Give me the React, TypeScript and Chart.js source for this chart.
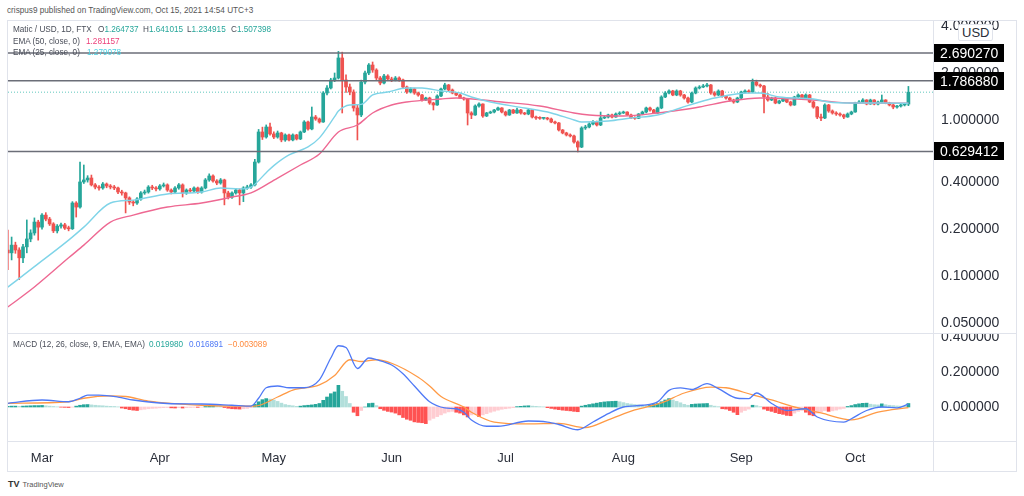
import React, { useEffect, useRef } from 'react';
import { Chart, registerables } from 'chart.js';
Chart.register(...registerables);

const FONT = '"Liberation Sans", Arial, sans-serif';

// ---------- DATA (day index 0 = 20 Feb 2021, daily candles to 15 Oct 2021) ----------
const FIRST_OPEN = 0.147;
const closes = [
  0.141, 0.158, 0.147, 0.131, 0.154, 0.173, 0.189, 0.222, 0.206, 0.246,
  0.232, 0.216, 0.195, 0.209, 0.213, 0.203, 0.201, 0.294, 0.277, 0.401,
  0.413, 0.425, 0.384, 0.372, 0.367, 0.389, 0.378, 0.372, 0.367, 0.346,
  0.341, 0.317, 0.298, 0.294, 0.312, 0.341, 0.346, 0.372, 0.367, 0.362,
  0.378, 0.384, 0.356, 0.346, 0.367, 0.384, 0.341, 0.356, 0.351, 0.367,
  0.346, 0.367, 0.413, 0.438, 0.407, 0.395, 0.413, 0.341, 0.321, 0.341,
  0.356, 0.341, 0.367, 0.372, 0.384, 0.538, 0.838, 0.778, 0.902, 0.814,
  0.778, 0.826, 0.745, 0.802, 0.745, 0.802, 0.756, 0.838, 0.971, 0.876,
  1.045, 1.015, 0.971, 1.489, 1.603, 1.804, 1.858, 2.496, 1.804, 1.627,
  1.511, 1.194, 1.077, 1.751, 2.000, 2.250, 2.090, 1.858, 1.726, 1.913,
  1.831, 1.804, 1.858, 1.804, 1.627, 1.511, 1.580, 1.489, 1.446, 1.343,
  1.383, 1.285, 1.248, 1.425, 1.580, 1.676, 1.557, 1.489, 1.446, 1.383,
  1.363, 1.109, 1.077, 1.229, 1.266, 1.061, 1.109, 1.125, 1.159, 1.194,
  1.125, 1.077, 1.159, 1.109, 1.159, 1.109, 1.093, 1.159, 1.045, 1.030,
  1.025, 1.030, 1.015, 0.971, 0.957, 0.863, 0.826, 0.802, 0.790, 0.723,
  0.671, 0.889, 0.902, 0.943, 0.971, 0.929, 1.030, 1.045, 1.077, 1.045,
  1.093, 1.109, 1.125, 1.077, 1.030, 1.025, 1.093, 1.125, 1.194, 1.159,
  1.109, 1.194, 1.404, 1.489, 1.534, 1.446, 1.534, 1.446, 1.383, 1.304,
  1.489, 1.603, 1.627, 1.651, 1.676, 1.489, 1.446, 1.534, 1.425, 1.383,
  1.343, 1.304, 1.383, 1.511, 1.534, 1.511, 1.751, 1.676, 1.651, 1.404,
  1.343, 1.383, 1.285, 1.323, 1.363, 1.304, 1.248, 1.404, 1.446, 1.383,
  1.446, 1.304, 1.211, 1.045, 1.030, 1.248, 1.142, 1.109, 1.093, 1.077,
  1.045, 1.093, 1.125, 1.285, 1.304, 1.343, 1.266, 1.343, 1.266, 1.304,
  1.343, 1.285, 1.248, 1.211, 1.229, 1.248, 1.264737, 1.507398,
];
const highs = [
  0.197, 0.178, 0.165, 0.152, 0.160, 0.229, 0.198, 0.236, 0.228, 0.252,
  0.255, 0.238, 0.220, 0.214, 0.219, 0.218, 0.209, 0.300, 0.300, 0.538,
  0.515, 0.440, 0.444, 0.392, 0.380, 0.398, 0.395, 0.386, 0.381, 0.372,
  0.355, 0.345, 0.322, 0.305, 0.318, 0.348, 0.356, 0.380, 0.382, 0.374,
  0.386, 0.395, 0.390, 0.362, 0.374, 0.392, 0.390, 0.362, 0.365, 0.373,
  0.372, 0.374, 0.422, 0.452, 0.445, 0.415, 0.422, 0.418, 0.350, 0.347,
  0.365, 0.362, 0.374, 0.382, 0.392, 0.560, 0.870, 0.900, 0.930, 0.957,
  0.840, 0.850, 0.835, 0.815, 0.812, 0.815, 0.810, 0.850, 0.990, 0.985,
  1.211, 1.07, 1.03, 1.52, 1.66, 1.85, 2.00, 2.75, 2.72, 1.95,
  1.70, 1.56, 1.25, 1.80, 2.06, 2.30, 2.352, 2.13, 1.90, 1.96,
  1.95, 1.88, 1.90, 1.89, 1.83, 1.65, 1.61, 1.60, 1.51, 1.46,
  1.40, 1.40, 1.30, 1.45, 1.60, 1.72, 1.69, 1.58, 1.50, 1.46,
  1.40, 1.37, 1.13, 1.25, 1.29, 1.27, 1.12, 1.14, 1.17, 1.21,
  1.20, 1.14, 1.17, 1.17, 1.19, 1.17, 1.12, 1.17, 1.17, 1.06,
  1.05, 1.04, 1.04, 1.03, 0.985, 0.965, 0.870, 0.835, 0.815, 0.800,
  0.735, 0.905, 0.925, 0.960, 0.990, 0.985, 1.125, 1.07, 1.09, 1.09,
  1.11, 1.13, 1.14, 1.13, 1.09, 1.05, 1.10, 1.14, 1.21, 1.21,
  1.17, 1.21, 1.43, 1.52, 1.56, 1.55, 1.56, 1.55, 1.46, 1.40,
  1.51, 1.63, 1.66, 1.69, 1.72, 1.69, 1.52, 1.56, 1.55, 1.44,
  1.40, 1.36, 1.40, 1.53, 1.56, 1.56, 1.83, 1.80, 1.70, 1.67,
  1.48, 1.40, 1.40, 1.34, 1.38, 1.37, 1.32, 1.42, 1.47, 1.46,
  1.47, 1.46, 1.32, 1.22, 1.09, 1.27, 1.26, 1.16, 1.13, 1.11,
  1.09, 1.11, 1.14, 1.30, 1.33, 1.37, 1.35, 1.36, 1.35, 1.32,
  1.446, 1.35, 1.30, 1.26, 1.24, 1.26, 1.28, 1.641015,
];
const lows = [
  0.110, 0.127, 0.140, 0.095, 0.122, 0.141, 0.166, 0.183, 0.170, 0.200,
  0.226, 0.211, 0.190, 0.189, 0.203, 0.199, 0.195, 0.199, 0.239, 0.272,
  0.392, 0.400, 0.378, 0.362, 0.355, 0.360, 0.368, 0.362, 0.358, 0.338,
  0.330, 0.254, 0.288, 0.282, 0.288, 0.306, 0.334, 0.340, 0.358, 0.352,
  0.355, 0.372, 0.349, 0.336, 0.340, 0.360, 0.321, 0.334, 0.344, 0.345,
  0.339, 0.340, 0.362, 0.405, 0.400, 0.385, 0.388, 0.286, 0.312, 0.314,
  0.335, 0.286, 0.300, 0.360, 0.365, 0.378, 0.530, 0.750, 0.765, 0.800,
  0.760, 0.765, 0.725, 0.730, 0.735, 0.735, 0.745, 0.748, 0.830, 0.860,
  0.865, 0.995, 0.955, 0.965, 1.45, 1.58, 1.76, 1.83, 1.109, 1.50,
  1.45, 1.14, 0.745, 1.05, 1.70, 1.95, 2.02, 1.80, 1.68, 1.70,
  1.79, 1.76, 1.78, 1.77, 1.60, 1.48, 1.49, 1.46, 1.42, 1.32,
  1.33, 1.26, 1.159, 1.24, 1.41, 1.56, 1.54, 1.47, 1.43, 1.37,
  1.34, 0.929, 1.02, 1.07, 1.21, 1.04, 1.05, 1.10, 1.11, 1.15,
  1.11, 1.06, 1.07, 1.10, 1.10, 1.09, 1.08, 1.08, 1.03, 1.01,
  1.01, 1.01, 1.00, 0.960, 0.945, 0.850, 0.815, 0.790, 0.778, 0.710,
  0.624, 0.665, 0.870, 0.890, 0.930, 0.915, 0.920, 1.02, 1.03, 1.03,
  1.04, 1.08, 1.10, 1.07, 1.02, 1.01, 1.02, 1.08, 1.11, 1.14,
  1.10, 1.10, 1.18, 1.39, 1.47, 1.43, 1.43, 1.42, 1.36, 1.28,
  1.29, 1.47, 1.58, 1.61, 1.63, 1.46, 1.42, 1.43, 1.40, 1.36,
  1.32, 1.28, 1.29, 1.37, 1.49, 1.49, 1.50, 1.65, 1.62, 1.109,
  1.32, 1.33, 1.27, 1.27, 1.31, 1.29, 1.23, 1.24, 1.39, 1.36,
  1.37, 1.29, 1.19, 1.02, 0.99, 1.02, 1.12, 1.09, 1.07, 1.06,
  1.02, 1.04, 1.08, 1.12, 1.27, 1.29, 1.25, 1.26, 1.25, 1.25,
  1.29, 1.27, 1.23, 1.18, 1.19, 1.21, 1.23, 1.234915,
];

const ema25Days = [0, 7, 16, 20, 27, 33, 42, 51, 56, 61, 64, 68, 70, 74, 79, 82, 86, 87, 90, 93, 96, 100, 105, 109, 114, 119, 122, 127, 136, 143, 149, 151, 158, 164, 171, 177, 182, 186, 195, 198, 203, 212, 216, 222, 230, 237];
const ema25 = [0.085, 0.115, 0.170, 0.206, 0.294, 0.307, 0.336, 0.346, 0.367, 0.362, 0.372, 0.46, 0.51, 0.597, 0.672, 0.768, 1.05, 1.14, 1.248, 1.26, 1.446, 1.511, 1.603, 1.603, 1.534, 1.489, 1.404, 1.304, 1.194, 1.109, 1.000, 0.971, 0.986, 1.030, 1.077, 1.194, 1.304, 1.383, 1.489, 1.489, 1.404, 1.363, 1.304, 1.285, 1.285, 1.279078];
const ema50Days = [0, 7, 16, 20, 27, 33, 42, 51, 59, 64, 71, 77, 82, 87, 92, 96, 101, 105, 114, 118, 130, 140, 149, 153, 162, 171, 177, 182, 190, 198, 212, 222, 237];
const ema50 = [0.0634, 0.0852, 0.131, 0.158, 0.222, 0.246, 0.277, 0.294, 0.321, 0.341, 0.425, 0.515, 0.606, 0.838, 0.929, 1.109, 1.248, 1.304, 1.363, 1.383, 1.304, 1.229, 1.109, 1.077, 1.061, 1.109, 1.159, 1.211, 1.323, 1.383, 1.343, 1.285, 1.281157];

const levels = [2.69027, 1.78688, 0.629412];
const lastPrice = 1.507398;
const priceTicks = [4, 2, 1, 0.4, 0.2, 0.1, 0.05];

const macdDays = [0, 9, 16, 19, 21, 24, 29, 33, 42, 51, 59, 64, 66, 68, 71, 74, 78, 82, 85, 87, 89, 92, 95, 97, 101, 104, 107, 111, 115, 118, 120, 122, 126, 129, 137, 142, 145, 150, 154, 158, 162, 167, 171, 174, 177, 180, 184, 187, 192, 195, 197, 201, 205, 210, 213, 220, 222, 226, 230, 234, 237];
const macdLine = [0.021, 0.04, 0.03, 0.05, 0.068, 0.068, 0.057, 0.04, 0.02, 0.017, 0.01, 0.005, 0.05, 0.11, 0.12, 0.11, 0.11, 0.155, 0.28, 0.35, 0.34, 0.22, 0.28, 0.27, 0.24, 0.19, 0.12, 0.03, -0.005, -0.01, -0.03, -0.074, -0.11, -0.11, -0.08, -0.086, -0.10, -0.13, -0.086, -0.038, 0.0, 0.01, 0.029, 0.095, 0.109, 0.10, 0.133, 0.105, 0.05, 0.048, 0.08, 0.02, -0.02, -0.01, -0.057, -0.086, -0.067, -0.02, 0.0, -0.005, 0.016891];
const signalDays = [0, 16, 20, 27, 31, 37, 51, 65, 71, 75, 82, 86, 90, 93, 97, 101, 108, 111, 114, 120, 122, 128, 137, 145, 152, 158, 165, 172, 178, 185, 189, 196, 201, 207, 214, 222, 229, 237];
const signalLine = [0.021, 0.03, 0.05, 0.063, 0.06, 0.034, 0.01, 0.005, 0.057, 0.097, 0.126, 0.18, 0.27, 0.26, 0.27, 0.25, 0.17, 0.12, 0.06, 0.0, -0.03, -0.086, -0.097, -0.094, -0.118, -0.074, -0.017, 0.023, 0.08, 0.114, 0.11, 0.069, 0.04, 0.0, -0.034, -0.074, -0.029, -0.003089];
const histogram = [
  0.004, 0.005, 0.005, 0.004, 0.005, 0.006, 0.007, 0.008, 0.008, 0.009,
  0.007, 0.005, 0.003, 0.001, -0.001, -0.002, -0.003, -0.001, 0.005, 0.01,
  0.013, 0.014, 0.012, 0.01, 0.008, 0.007, 0.005, 0.004, 0.003, 0.001,
  -0.006, -0.01, -0.015, -0.018, -0.02, -0.016, -0.013, -0.01, -0.008, -0.007,
  -0.005, -0.004, -0.003, -0.005, -0.006, -0.004, -0.006, -0.004, -0.003, -0.002,
  -0.002, -0.001, 0.003, 0.005, 0.006, 0.005, 0.004, -0.003, -0.007, -0.01,
  -0.011, -0.012, -0.01, -0.008, -0.004, 0.015, 0.03, 0.042, 0.048, 0.045,
  0.04, 0.032, 0.022, 0.014, 0.01, 0.007, 0.004, 0.005, 0.008, 0.01,
  0.012, 0.015, 0.02, 0.038, 0.057, 0.076, 0.086, 0.124, 0.09, 0.06,
  0.02, -0.03, -0.05, -0.02, 0.0, 0.02, 0.022, 0.008, -0.01, -0.019,
  -0.025, -0.029, -0.035, -0.045, -0.06, -0.07, -0.076, -0.085, -0.088, -0.09,
  -0.095, -0.075, -0.065, -0.055, -0.045, -0.035, -0.028, -0.025, -0.03, -0.035,
  -0.045, -0.057, -0.045, -0.04, -0.055, -0.045, -0.038, -0.03, -0.024, -0.018,
  -0.013, -0.01, -0.007, -0.004, 0.002, 0.004, 0.006, 0.007, 0.005, 0.004,
  0.002, 0.001, -0.004, -0.008, -0.012, -0.015, -0.018, -0.02, -0.022, -0.025,
  -0.027, 0.005, 0.01, 0.014, 0.018, 0.022, 0.026, 0.029, 0.031, 0.032,
  0.033, 0.03, 0.025, 0.02, 0.017, 0.014, 0.012, 0.01, 0.009, 0.012,
  0.015, 0.02, 0.03, 0.04, 0.048, 0.04, 0.032, 0.024, 0.015, 0.01,
  0.015, 0.017, 0.018, 0.019, 0.02, 0.01, 0.005, 0.002, -0.01, -0.012,
  -0.02, -0.03, -0.044, -0.03, -0.02, -0.012, 0.01, 0.008, 0.002, -0.012,
  -0.02, -0.025, -0.032, -0.038, -0.042, -0.048, -0.05, -0.035, -0.025, -0.02,
  -0.03, -0.045, -0.05, -0.035, -0.028, -0.02, -0.025, -0.022, -0.018, -0.012,
  -0.008, 0.003, 0.008, 0.014, 0.018, 0.021, 0.022, 0.016, 0.013, 0.012,
  0.018, 0.013, 0.01, 0.008, 0.006, 0.005, 0.004, 0.01998,
];
const macdTicks = [0, 0.2, 0.4];
const monthTicks = [9, 40, 70, 101, 131, 162, 193, 223];
const monthLabels = ['Mar', 'Apr', 'May', 'Jun', 'Jul', 'Aug', 'Sep', 'Oct'];

// ---------- axis ranges ----------
const X_MIN = 0.05;
const X_MAX = 243.47;
const Y_MIN = 0.043228;
const Y_MAX = 4.306;
const M_MIN = -0.19429;
const M_MAX = 0.41714;

const UP = '#26a69a';
const DOWN = '#ef5350';

const opens = closes.map((c, i) => (i === 0 ? FIRST_OPEN : closes[i - 1]));
const candleColors = closes.map((c, i) => (c >= opens[i] ? UP : DOWN));

const levelLabelPlugin = {
  id: 'levelLabels',
  afterDraw(chart: any) {
    const { ctx, chartArea, scales } = chart;
    const ys = scales.y;
    ctx.save();
    ctx.font = `14px ${FONT}`;
    ctx.textBaseline = 'middle';
    ctx.textAlign = 'left';
    levels.forEach((v) => {
      const y = Math.round(ys.getPixelForValue(v));
      ctx.fillStyle = '#000000';
      ctx.fillRect(chartArea.right + 1, y - 9, 70, 18);
      ctx.fillStyle = '#ffffff';
      ctx.fillText(v.toFixed(6), chartArea.right + 7, y + 1);
    });
    ctx.restore();
  },
};

function lineData(days: number[], vals: number[]) {
  return days.map((d, k) => ({ x: d, y: vals[k] }));
}

function priceConfig(): any {
  const levelSets = levels.map((v) => ({
    type: 'line',
    data: [{ x: X_MIN, y: v }, { x: X_MAX, y: v }],
    borderColor: '#6b6e78',
    borderWidth: 1.5,
    pointRadius: 0,
    order: -1,
  }));
  return {
    type: 'bar',
    data: {
      datasets: [
        {
          type: 'line',
          data: [{ x: X_MIN, y: lastPrice }, { x: X_MAX, y: lastPrice }],
          borderColor: '#5fc7bd',
          borderWidth: 1,
          borderDash: [1, 2],
          pointRadius: 0,
          order: 4,
        },
        ...levelSets,
        {
          type: 'line',
          data: lineData(ema25Days, ema25),
          borderColor: '#7fd4e8',
          borderWidth: 1.4,
          pointRadius: 0,
          cubicInterpolationMode: 'monotone',
          order: 0,
        },
        {
          type: 'line',
          data: lineData(ema50Days, ema50),
          borderColor: '#ee6892',
          borderWidth: 1.4,
          pointRadius: 0,
          cubicInterpolationMode: 'monotone',
          order: 0,
        },
        {
          type: 'bar',
          data: closes.map((c, i) => ({ x: i, y: [opens[i], c] })),
          backgroundColor: candleColors,
          borderWidth: 0,
          barThickness: 3,
          minBarLength: 1,
          grouped: false,
          order: 1,
        },
        {
          type: 'bar',
          data: closes.map((c, i) => ({ x: i, y: [lows[i], highs[i]] })),
          backgroundColor: candleColors,
          borderWidth: 0,
          barThickness: 1,
          grouped: false,
          order: 2,
        },
      ],
    },
    options: {
      animation: false,
      responsive: false,
      devicePixelRatio: 1,
      events: [],
      layout: { padding: 0, autoPadding: false },
      plugins: { legend: { display: false }, tooltip: { enabled: false } },
      scales: {
        x: {
          type: 'linear',
          min: X_MIN,
          max: X_MAX,
          offset: false,
          display: false,
        },
        y: {
          type: 'logarithmic',
          position: 'right',
          min: Y_MIN,
          max: Y_MAX,
          bounds: 'data',
          grid: { display: false, drawTicks: false },
          border: { display: false },
          afterBuildTicks: (s: any) => {
            s.ticks = priceTicks.map((v) => ({ value: v }));
          },
          afterFit: (s: any) => {
            s.width = 83;
            s.paddingTop = 0;
            s.paddingBottom = 0;
          },
          ticks: {
            autoSkip: false,
            padding: 8,
            color: '#2a2e39',
            font: { family: FONT, size: 14 },
            callback: (v: any) => Number(v).toFixed(6),
          },
        },
      },
    },
    plugins: [levelLabelPlugin],
  };
}

function macdConfig(): any {
  const histColors = histogram.map((h, i) => {
    const prev = i === 0 ? 0 : histogram[i - 1];
    if (h >= 0) return h >= prev ? '#26a69a' : '#b2dfdb';
    return h <= prev ? '#ff5252' : '#ffcdd2';
  });
  return {
    type: 'bar',
    data: {
      datasets: [
        {
          type: 'line',
          data: lineData(macdDays, macdLine),
          borderColor: '#4f79f6',
          borderWidth: 1.3,
          pointRadius: 0,
          cubicInterpolationMode: 'monotone',
          order: 0,
        },
        {
          type: 'line',
          data: lineData(signalDays, signalLine),
          borderColor: '#ff9a45',
          borderWidth: 1.3,
          pointRadius: 0,
          cubicInterpolationMode: 'monotone',
          order: 1,
        },
        {
          type: 'bar',
          data: histogram.map((h, i) => ({ x: i, y: h })),
          backgroundColor: histColors,
          borderWidth: 0,
          barThickness: 3,
          grouped: false,
          order: 2,
        },
      ],
    },
    options: {
      animation: false,
      responsive: false,
      devicePixelRatio: 1,
      events: [],
      layout: { padding: 0, autoPadding: false },
      plugins: { legend: { display: false }, tooltip: { enabled: false } },
      scales: {
        x: {
          type: 'linear',
          min: X_MIN,
          max: X_MAX,
          offset: false,
          position: 'bottom',
          grid: { display: false, drawTicks: false },
          border: { display: false },
          afterBuildTicks: (s: any) => {
            s.ticks = monthTicks.map((v) => ({ value: v }));
          },
          afterFit: (s: any) => {
            s.height = 31;
            s.paddingLeft = 0;
            s.paddingRight = 0;
          },
          ticks: {
            autoSkip: false,
            maxRotation: 0,
            padding: 10,
            color: '#2a2e39',
            font: { family: FONT, size: 13 },
            callback: (v: any) => {
              const k = monthTicks.indexOf(Number(v));
              return k >= 0 ? monthLabels[k] : '';
            },
          },
        },
        y: {
          type: 'linear',
          position: 'right',
          min: M_MIN,
          max: M_MAX,
          bounds: 'data',
          grid: { display: false, drawTicks: false },
          border: { display: false },
          afterBuildTicks: (s: any) => {
            s.ticks = macdTicks.map((v) => ({ value: v }));
          },
          afterFit: (s: any) => {
            s.width = 83;
            s.paddingTop = 0;
            s.paddingBottom = 0;
          },
          ticks: {
            autoSkip: false,
            padding: 8,
            color: '#2a2e39',
            font: { family: FONT, size: 14 },
            callback: (v: any) => Number(v).toFixed(6),
          },
        },
      },
    },
  };
}

const abs = (l: number, t: number, extra: any = {}) => ({ position: 'absolute' as const, left: l, top: t, ...extra });

export default function App() {
  const priceRef = useRef<HTMLCanvasElement>(null);
  const macdRef = useRef<HTMLCanvasElement>(null);

  useEffect(() => {
    const c1 = new Chart(priceRef.current as HTMLCanvasElement, priceConfig());
    const c2 = new Chart(macdRef.current as HTMLCanvasElement, macdConfig());
    return () => {
      c1.destroy();
      c2.destroy();
    };
  }, []);

  const legendFont = { fontFamily: FONT, fontSize: 8.2, lineHeight: '10px', whiteSpace: 'nowrap' as const };
  const lbl = '#4a4e59';

  return (
    <div style={{ position: 'absolute', left: 0, top: 0, width: 1024, height: 496, background: '#ffffff', overflow: 'hidden', fontFamily: FONT }}>
      <div style={abs(7, 6, { ...legendFont, color: '#555' })}>crispus9 published on TradingView.com, Oct 15, 2021 14:54 UTC+3</div>

      <canvas ref={priceRef} width={1008} height={312} style={abs(8, 21)} />
      <canvas ref={macdRef} width={1008} height={138} style={abs(8, 334)} />

      {/* frame and separators */}
      <div style={abs(7, 20, { width: 1010, height: 452, border: '1px solid #e0e3eb', boxSizing: 'border-box' })} />
      <div style={abs(933, 20, { width: 1, height: 452, background: '#e0e3eb' })} />
      <div style={abs(7, 333, { width: 1010, height: 1, background: '#e0e3eb' })} />
      <div style={abs(7, 441, { width: 1010, height: 1, background: '#e0e3eb' })} />

      {/* USD badge */}
      <div style={abs(958, 24, { padding: '0 3px', height: 15, lineHeight: '15px', fontSize: 13, color: '#2a2e39', background: '#fff', border: '1px solid #e0e3eb', borderRadius: 2 })}>USD</div>

      {/* price legend */}
      <div style={abs(13, 25, { ...legendFont, color: lbl })}>Matic / USD, 1D, FTX</div>
      <div style={abs(98, 25, { ...legendFont, color: lbl })}>O<span style={{ color: UP }}>1.264737</span></div>
      <div style={abs(143, 25, { ...legendFont, color: lbl })}>H<span style={{ color: UP }}>1.641015</span></div>
      <div style={abs(187, 25, { ...legendFont, color: lbl })}>L<span style={{ color: UP }}>1.234915</span></div>
      <div style={abs(231, 25, { ...legendFont, color: lbl })}>C<span style={{ color: UP }}>1.507398</span></div>
      <div style={abs(13, 37, { ...legendFont, color: lbl })}>EMA (50, close, 0)</div>
      <div style={abs(86, 37, { ...legendFont, color: '#ec407a' })}>1.281157</div>
      <div style={abs(13, 48, { ...legendFont, color: lbl })}>EMA (25, close, 0)</div>
      <div style={abs(87, 48, { ...legendFont, color: '#4dd0e1' })}>1.279078</div>

      {/* MACD legend */}
      <div style={abs(13, 340, { ...legendFont, color: lbl })}>MACD (12, 26, close, 9, EMA, EMA)</div>
      <div style={abs(149, 340, { ...legendFont, color: '#26a69a' })}>0.019980</div>
      <div style={abs(189, 340, { ...legendFont, color: '#4f79f6' })}>0.016891</div>
      <div style={abs(228, 340, { ...legendFont, color: '#ff8a3d' })}>−0.003089</div>

      {/* footer */}
      <div style={abs(8, 479, { ...legendFont, color: '#333' })}>
        <span style={{ fontWeight: 700, fontSize: 9 }}>TV</span>
        <span style={{ marginLeft: 3, fontSize: 7.5, color: '#555' }}>TradingView</span>
      </div>
    </div>
  );
}
